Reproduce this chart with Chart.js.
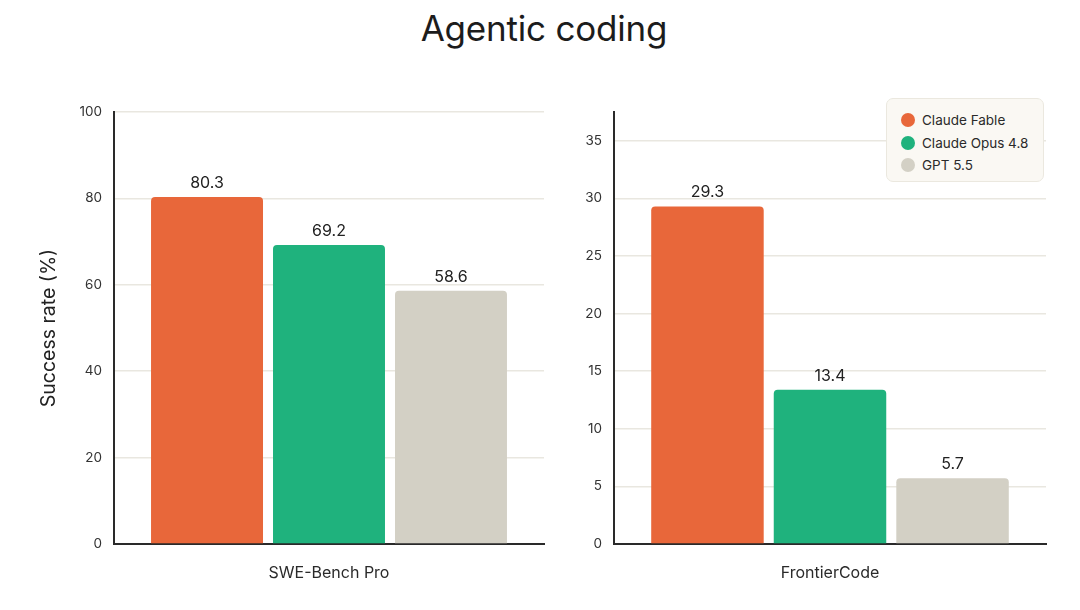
<!DOCTYPE html>
<html>
<head>
<meta charset="utf-8">
<script src="https://cdn.jsdelivr.net/npm/chart.js@4"></script>
<style>
  body { margin: 0; background: #fff; width: 1080px; height: 610px; position: relative; overflow: hidden; font-family: Inter, "Noto Sans", sans-serif; }
  #title { position: absolute; left: 0; top: 7px; width: 1088px; text-align: center; font-size: 35px; color: #1c1c1c; font-weight: 400; letter-spacing: -0.2px; }
  .wrap { position: absolute; top: 90px; height: 520px; }
  #legend { position: absolute; left: 886px; top: 98px; width: 158px; height: 84px; background: #faf8f3; border: 1px solid #ebe8df; border-radius: 7px; box-sizing: border-box; padding: 10px 0 0 14px; }
  .item { display: flex; align-items: center; height: 22.5px; font-size: 13.5px; color: #2a2a2a; }
  .dot { width: 14px; height: 14px; border-radius: 50%; margin-right: 7px; }
</style>
</head>
<body>
<div id="title">Agentic coding</div>
<div class="wrap" style="left:0;width:560px"><canvas id="c1" width="560" height="520"></canvas></div>
<div class="wrap" style="left:560px;width:520px"><canvas id="c2" width="520" height="520"></canvas></div>
<div id="legend"></div>
<script>
const seriesNames = ['Claude Fable', 'Claude Opus 4.8', 'GPT 5.5']
const seriesColors = ['#e8673a', '#1fb27d', '#d3d0c5']

const leftCategories = ['SWE-Bench Pro']
const leftValues = [80.3, 69.2, 58.6]
const leftTicks = [0, 20, 40, 60, 80, 100]

const rightCategories = ['FrontierCode']
const rightValues = [29.3, 13.4, 5.7]
const rightTicks = [0, 5, 10, 15, 20, 25, 30, 35]

// legend
let html = ''
for (let i = 0; i < seriesNames.length; i++) {
    html += '<div class="item"><span class="dot" style="background:' + seriesColors[i] + '"></span>' + seriesNames[i] + '</div>'
}
document.getElementById('legend').innerHTML = html

const valueLabels = {
    id: 'valueLabels',
    afterDatasetsDraw(chart) {
        const ctx = chart.ctx
        ctx.save()
        ctx.font = '16px Inter, "Noto Sans", sans-serif'
        ctx.fillStyle = '#222'
        ctx.textAlign = 'center'
        ctx.textBaseline = 'alphabetic'
        chart.data.datasets.forEach((ds, i) => {
            chart.getDatasetMeta(i).data.forEach((bar, j) => {
                ctx.fillText(ds.data[j].toFixed(1), bar.x, bar.y - 9)
            })
        })
        ctx.restore()
    }
}

function makeChart(id, categories, values, ticks, max, yWidth, rightPad, yTitle) {
    const datasets = seriesNames.map((name, i) => ({
        label: name,
        data: [values[i]],
        backgroundColor: seriesColors[i],
        borderRadius: { topLeft: 4, topRight: 4 },
        borderSkipped: 'bottom',
        categoryPercentage: 0.851,
        barPercentage: 0.918
    }))
    return new Chart(document.getElementById(id), {
        type: 'bar',
        data: { labels: categories, datasets: datasets },
        options: {
            responsive: false,
            animation: false,
            layout: { padding: { top: 22, right: rightPad, left: 0, bottom: 0 } },
            plugins: { legend: { display: false }, tooltip: { enabled: false } },
            scales: {
                x: {
                    grid: { display: false },
                    border: { color: '#2a2a2a', width: 2 },
                    ticks: { color: '#2a2a2a', padding: 12, font: { size: 16, family: 'Inter' } },
                    afterFit: s => { s.height = 66 }
                },
                y: {
                    min: 0,
                    max: max,
                    afterBuildTicks: s => { s.ticks = ticks.map(v => ({ value: v })) },
                    grid: { color: '#e9e7e0', lineWidth: 1.5, drawTicks: false },
                    border: { color: '#2a2a2a', width: 2 },
                    ticks: { color: '#333', padding: 12, font: { size: 13.5, family: 'Inter' } },
                    title: {
                        display: !!yTitle,
                        text: yTitle,
                        color: '#222',
                        font: { size: 19.5, family: 'Inter' },
                        padding: { top: 37, bottom: 0 }
                    },
                    afterFit: s => { s.width = yWidth }
                }
            }
        },
        plugins: [valueLabels]
    })
}

makeChart('c1', leftCategories, leftValues, leftTicks, 100, 114, 16, 'Success rate (%)')
makeChart('c2', rightCategories, rightValues, rightTicks, 37.5, 54, 34, '')
</script>
</body>
</html>
